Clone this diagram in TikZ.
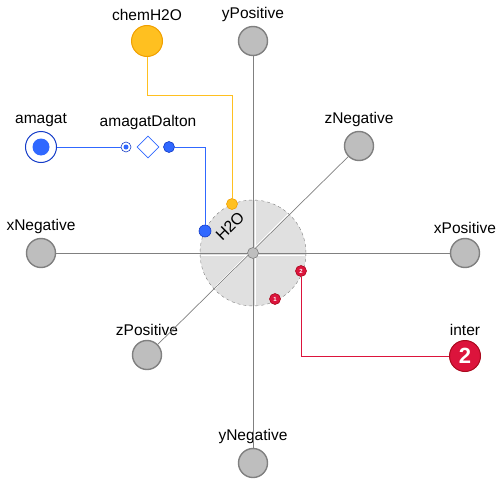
\documentclass[tikz,border=0pt]{standalone}
\usepackage{fontspec}
\setmainfont{Liberation Sans}
\usetikzlibrary{positioning}
\usetikzlibrary{shapes.geometric}
\definecolor{portgray}{RGB}{190,190,190}
\definecolor{rimgray}{RGB}{128,128,128}
\definecolor{chemfill}{RGB}{255,192,32}
\definecolor{chemrim}{RGB}{240,160,0}
\definecolor{bluefill}{RGB}{48,104,255}
\definecolor{bluerim}{RGB}{20,60,200}
\definecolor{redfill}{RGB}{220,20,60}
\definecolor{redrim}{RGB}{170,10,30}
\tikzset{
  lbl/.style={font=\fontsize{15.5}{17}\selectfont, inner sep=1pt, label distance=3pt},
  grayport/.style={circle, draw=rimgray, fill=portgray, line width=1.4pt, minimum size=29pt, inner sep=0pt},
  axisline/.style={draw=rimgray, line width=0.9pt},
  chemline/.style={draw=chemfill, line width=1pt},
  blueline/.style={draw=bluefill, line width=1pt},
  redline/.style={draw=redfill, line width=1pt},
  dot/.style={circle, inner sep=0pt, line width=0.6pt}
}
\begin{document}
\begin{tikzpicture}[x=1pt, y=-1pt]
	\useasboundingbox (0,0) rectangle (503,487);
	% body
	\node[circle, draw=rimgray, dashed, fill=black!12, minimum size=106pt, inner sep=0pt] (body) at (253,253) {};
	\begin{scope}
	  \clip (253,253) circle (52);
	  \draw[white, line width=1.8pt] (255.5,190) -- (255.5,316);
	  \draw[white, line width=1.8pt] (190,255.5) -- (316,255.5);
	  \draw[white, line width=1.8pt] (146,357) -- (360,143);
	\end{scope}
	% axis ports
	\node[grayport, label={[lbl]above:xNegative}] (xNegative) at (41,253) {};
	\node[grayport, label={[lbl]above:xPositive}] (xPositive) at (465,253) {};
	\node[grayport, label={[lbl]above:yPositive}] (yPositive) at (253,41) {};
	\node[grayport, label={[lbl]above:yNegative}] (yNegative) at (253,463) {};
	\node[grayport, label={[lbl]above:zNegative}] (zNegative) at (359,146) {};
	\node[grayport, label={[lbl]above:zPositive}] (zPositive) at (147,355) {};
	\draw[axisline] (xNegative) -- (xPositive);
	\draw[axisline] (yPositive) -- (yNegative);
	\draw[axisline, line width=0.7pt] (zPositive) -- (zNegative);
	\node[dot, draw=rimgray, fill=portgray, minimum size=11pt] (center) at (253,253) {};
	\node[rotate=45, font=\fontsize{16}{17}\selectfont, inner sep=0pt] (h2o) at (230,226) {H2O};
	% chemical port
	\node[circle, draw=chemrim, fill=chemfill, line width=1pt, minimum size=31pt, inner sep=0pt,
	  label={[lbl]above:chemH2O}] (chemH2O) at (147,41) {};
	\node[dot, draw=chemrim, fill=chemfill, minimum size=11pt] (chemPort) at (232,204) {};
	\draw[chemline] (chemH2O.south) -- ++(0,38) -| (chemPort.north);
	% amagat
	\node[circle, draw=bluerim, line width=1pt, minimum size=31pt, inner sep=0pt,
	  label={[lbl]above:amagat}] (amagat) at (41,147) {};
	\node[dot, fill=bluefill, minimum size=17pt] at (amagat) {};
	\node[diamond, draw=bluefill, fill=white, line width=0.6pt, minimum size=22pt, inner sep=0pt,
	  label={[lbl, label distance=5pt]above:amagatDalton}] (amagatDalton) at (148,147) {};
	\node[dot, draw=bluerim, fill=white, minimum size=10pt] (adIn) at (126,147) {};
	\node[dot, fill=bluefill, minimum size=5pt] at (adIn) {};
	\node[dot, draw=bluerim, fill=bluefill, minimum size=11pt] (adOut) at (169,147) {};
	\node[dot, draw=bluerim, fill=bluefill, minimum size=12pt] (bluePort) at (205,231) {};
	\draw[blueline] (amagat.east) -- (adIn.west);
	\draw[blueline] (adOut.east) -| (bluePort.north);
	% inter ports
	\node[dot, draw=redrim, fill=redfill, minimum size=11pt, font=\fontsize{6}{6}\selectfont\bfseries, text=white] (port2) at (301,271) {2};
	\node[dot, draw=redrim, fill=redfill, minimum size=11pt, font=\fontsize{6}{6}\selectfont\bfseries, text=white] (port1) at (275,299) {1};
	\node[circle, draw=redrim, fill=redfill, line width=1pt, minimum size=31pt, inner sep=0pt,
	  font=\fontsize{22}{22}\selectfont\bfseries, text=white, label={[lbl]above:inter}] (inter) at (465,356) {2};
	\draw[redline] (port2.south) |- (inter.west);
\end{tikzpicture}
\end{document}
